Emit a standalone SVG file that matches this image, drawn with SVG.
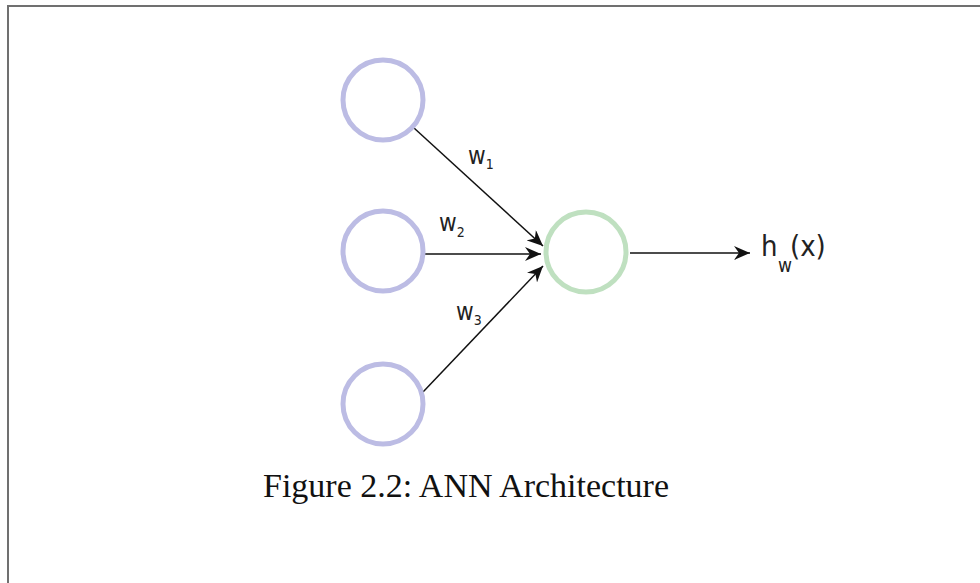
<svg xmlns="http://www.w3.org/2000/svg" width="980" height="583" viewBox="0 0 980 583">
  <style>
    .input { fill: none; stroke: #bcbce4; stroke-width: 5; }
    .output { fill: none; stroke: #bfe0c0; stroke-width: 5; }
    .edge { fill: none; stroke: #111; stroke-width: 1.5; marker-end: url(#arrow); }
    .lbl { font-family: "DejaVu Sans Condensed", "DejaVu Sans", sans-serif; fill: #222; }
    .caption { font-family: "Liberation Serif", "Times New Roman", serif; font-size: 34px; fill: #111; }
    .frame { fill: none; stroke: #707070; stroke-width: 2; }
  </style>
  <defs>
    <marker id="arrow" markerUnits="userSpaceOnUse" markerWidth="18" markerHeight="14" refX="16" refY="7" orient="auto">
      <path d="M0,0 L16,7 L0,14 L5,7 Z" fill="#111"/>
    </marker>
  </defs>

  <rect width="980" height="583" fill="#fff"/>
  <path class="frame" d="M8,583 V6 H980"/>

  <g id="connectors">
    <line class="edge" x1="414" y1="128" x2="543" y2="246"/>
    <line class="edge" x1="423" y1="254" x2="541" y2="254"/>
    <line class="edge" x1="423" y1="392" x2="543" y2="266"/>
    <line class="edge" x1="630" y1="253" x2="750" y2="253"/>
  </g>

  <g id="x1"><circle class="input" cx="383" cy="100" r="40"/></g>
  <g id="x2"><circle class="input" cx="383" cy="251" r="40"/></g>
  <g id="x3"><circle class="input" cx="383" cy="404" r="40"/></g>
  <g id="neuron"><circle class="output" cx="586" cy="252" r="40"/></g>

  <g id="weights" class="lbl">
    <text x="468" y="164" font-size="24">w<tspan font-size="14" dy="5">1</tspan></text>
    <text x="439" y="231" font-size="24">w<tspan font-size="14" dy="6">2</tspan></text>
    <text x="456" y="320" font-size="24">w<tspan font-size="14" dy="5">3</tspan></text>
  </g>

  <g id="hypothesis" class="lbl">
    <text x="761" y="256" font-size="29">h</text>
    <text x="778" y="272" font-size="19">w</text>
    <text x="790" y="256" font-size="29">(x)</text>
  </g>

  <text class="caption" x="466" y="497" text-anchor="middle">Figure 2.2: ANN Architecture</text>
</svg>
